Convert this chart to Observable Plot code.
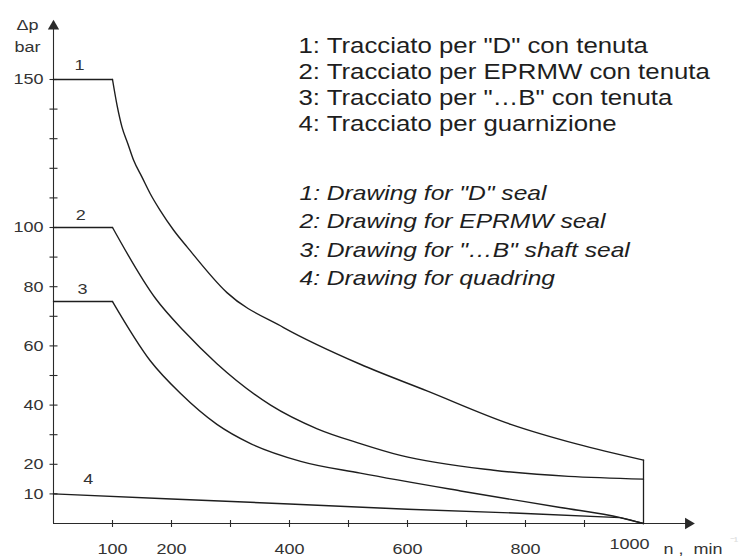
<!DOCTYPE html>
<html>
<head>
<meta charset="utf-8">
<script src="https://cdn.jsdelivr.net/npm/d3@7"></script>
<script src="https://cdn.jsdelivr.net/npm/@observablehq/plot@0.6"></script>
<style>
  body { margin: 0; background: #fff; }
</style>
</head>
<body>
<div id="chart"></div>
<script>
// Permissible differential pressure Δp (bar) against speed n (min⁻¹) for four seal types.
const curve1N = [0, 100, 108, 116, 126, 136, 150, 164, 181, 204, 227, 294, 390, 520, 633, 775, 888, 1000];
const curve1P = [150, 150, 141, 134, 128.3, 122.6, 117, 111.4, 105.7, 99, 93.3, 78, 66.2, 53.8, 44.8, 33.5, 26.8, 21.4];
const curve2N = [0, 100, 173, 221, 277, 368, 447, 520, 588, 746, 1000];
const curve2P = [100, 100, 76, 65, 54, 40, 32, 27, 23, 18, 15];
const curve3N = [0, 100, 164, 215, 277, 334, 419, 520, 690, 859, 961, 1000];
const curve3P = [75, 75, 55, 44, 33.5, 27, 21, 17, 11, 5.4, 2, 0];
const curve4N = [0, 200, 400, 600, 800, 960, 1000];
const curve4P = [10, 8.3, 6.6, 4.8, 3.4, 2, 0];

// Curve numbers written next to each plateau
const curveNames = ["1", "2", "3", "4"];
const curveLabelN = [44, 46, 49, 59];
const curveLabelP = [155, 104, 79, 15];

// Axis ticks and labels
const yTickValues = [10, 20, 30, 40, 50, 60, 70, 80, 90, 100, 110, 120, 130, 140, 150];
const yTickLabels = [10, 20, 40, 60, 80, 100, 150];
const xTickValues = [100, 200, 300, 400, 500, 600, 700, 800, 900];
const xTickLabels = [100, 200, 400, 600, 800];
const xLastLabel = [1000];

// Legend text
const legendIt = [
  "1: Tracciato per \"D\" con tenuta",
  "2: Tracciato per EPRMW con tenuta",
  "3: Tracciato per \"…B\" con tenuta",
  "4: Tracciato per guarnizione"
];
const legendEn = [
  "1: Drawing for \"D\" seal",
  "2: Drawing for EPRMW seal",
  "3: Drawing for \"…B\" shaft seal",
  "4: Drawing for quadring"
];

// Build the plateau and falling parts of each curve (the corner at the knee stays sharp)
const kneeN = 100;
const curves = [[curve1N, curve1P], [curve2N, curve2P], [curve3N, curve3P]];
const flatRows = [];
const fallRows = [];
curves.forEach(([ns, ps], i) => {
  ns.forEach((n, j) => {
    const row = {curve: curveNames[i], n, p: ps[j]};
    if (n <= kneeN) flatRows.push(row);
    if (n >= kneeN) fallRows.push(row);
  });
});
const quadRows = curve4N.map((n, j) => ({n, p: curve4P[j]}));
const curveLabels = curveNames.map((t, i) => ({t, n: curveLabelN[i], p: curveLabelP[i]}));

const ink = "#1e1e1e";
const axisInk = "#2a2a2a";
const labelInk = "#333";
const yArrowAt = 168;   // top end of the Δp axis
const xArrowAt = 1076;  // right end of the n axis
const textStretch = 1.2; // the lettering of this drawing is set wide

// Short tick symbols that cross the axis line
const hTick = {draw(ctx, size) { const r = Math.sqrt(size / Math.PI); ctx.moveTo(-r, 0); ctx.lineTo(r, 0); }};
const vTick = {draw(ctx, size) { const r = Math.sqrt(size / Math.PI); ctx.moveTo(0, -r); ctx.lineTo(0, r); }};

const chart = Plot.plot({
  width: 747,
  height: 558,
  marginLeft: 53,
  marginRight: 104,
  marginTop: 79,
  marginBottom: 35,
  x: {domain: [0, 1000], axis: null},
  y: {domain: [0, 150], axis: null},
  style: {fontFamily: "'Liberation Sans', Arial, sans-serif", background: "#fff", color: ink},
  marks: [
    // axes with arrow heads
    Plot.ruleX([0], {y1: 0, y2: yArrowAt, stroke: axisInk, strokeWidth: 1.1}),
    Plot.ruleY([0], {x1: 0, x2: xArrowAt, stroke: axisInk, strokeWidth: 1.1}),
    Plot.dot([yArrowAt], {x: 0, y: d => d, symbol: "triangle", r: 4.2, fill: axisInk, stroke: null}),
    Plot.dot([xArrowAt], {x: d => d, y: 0, symbol: "triangle", rotate: 90, r: 4.2, fill: axisInk, stroke: null}),
    Plot.dot(yTickValues, {x: 0, y: d => d, symbol: hTick, r: 4, stroke: axisInk, fill: "none", strokeWidth: 1.1}),
    Plot.dot(xTickValues, {x: d => d, y: 0, symbol: vTick, r: 3.5, stroke: axisInk, fill: "none", strokeWidth: 1.1}),

    // tick labels
    Plot.text(yTickLabels, {x: 0, y: d => d, text: d => String(d), textAnchor: "end", dx: -10, fontSize: 15, fill: labelInk}),
    Plot.text(xTickLabels, {x: d => d, y: 0, text: d => String(d), dy: 26, fontSize: 15, fill: labelInk}),
    Plot.text(xLastLabel, {x: d => d, y: 0, text: d => String(d), dy: 21, dx: -14, fontSize: 15, fill: labelInk}),

    // axis titles
    Plot.text(["Δp"], {x: 0, y: yArrowAt, dx: -26, dy: -1, fontSize: 15, fill: labelInk}),
    Plot.text(["bar"], {x: 0, y: yArrowAt, dx: -26, dy: 21, fontSize: 15, fill: labelInk}),
    Plot.text(["n ,  min"], {x: 1000, y: 0, dx: 20, dy: 26, textAnchor: "start", fontSize: 15, fill: labelInk}),
    Plot.text(["⁻¹"], {x: 1000, y: 0, dx: 86, dy: 18, textAnchor: "start", fontSize: 11, fill: "#d8d8d8"}),

    // curves
    Plot.line(flatRows, {x: "n", y: "p", z: "curve", stroke: ink, strokeWidth: 1.4}),
    Plot.line(fallRows, {x: "n", y: "p", z: "curve", curve: "monotone-x", stroke: ink, strokeWidth: 1.4}),
    Plot.line(quadRows, {x: "n", y: "p", stroke: ink, strokeWidth: 1.4}),
    Plot.ruleX([curve1N[curve1N.length - 1]], {y1: 0, y2: curve1P[curve1P.length - 1], stroke: ink, strokeWidth: 1.3}),

    // curve numbers
    Plot.text(curveLabels, {x: "n", y: "p", text: "t", fontSize: 15, fill: labelInk}),

    // legend blocks
    Plot.text([legendIt.join("\n")], {frameAnchor: "top-left", dx: 245, dy: -45, lineAnchor: "top", lineHeight: 1.21, textAnchor: "start", fontSize: 21.5, fill: ink}),
    Plot.text([legendEn.join("\n")], {frameAnchor: "top-left", dx: 246, dy: 100, lineAnchor: "top", lineHeight: 1.39, textAnchor: "start", fontSize: 20.5, fontStyle: "italic", fill: ink})
  ]
});

// widen every piece of lettering around its own anchor point
d3.select(chart).selectAll("text").each(function() {
  const t = this.getAttribute("transform") || "";
  this.setAttribute("transform", `${t} scale(${textStretch},1)`);
});

document.getElementById("chart").append(chart);
</script>
</body>
</html>
